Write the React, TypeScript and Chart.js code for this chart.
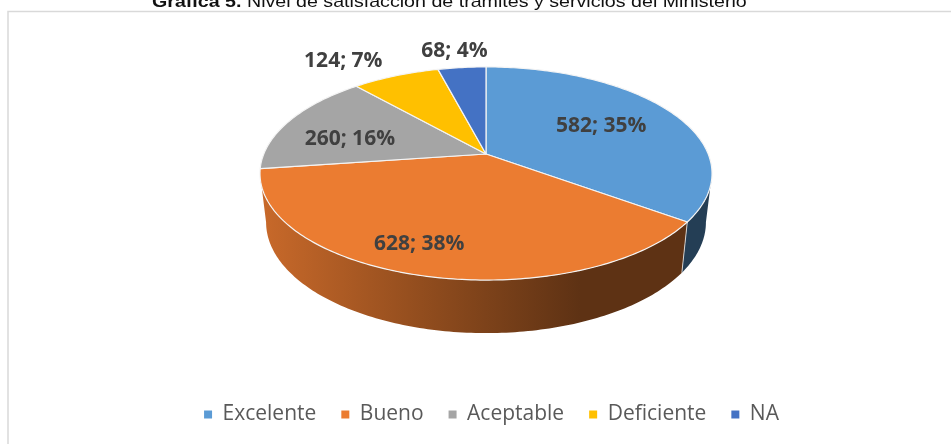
import React, { useEffect, useRef } from "react";
import { Chart, registerables } from "chart.js";

Chart.register(...registerables);

const categories = ["Excelente", "Bueno", "Aceptable", "Deficiente", "NA"];
const responses = [582, 628, 260, 124, 68];
const sliceColors = ["#5b9bd5", "#eb7c31", "#a5a5a5", "#ffc000", "#4472c4"];
const labelNudges = [
  [-7, 1],
  [-27, 17],
  [-6, 7],
  [-81, -40],
  [-15, -44],
];

const TITLE_BOLD = "Gráfica 5.";
const TITLE_REST = " Nivel de satisfacción de trámites y servicios del Ministerio";
const TITLE_WIDEN = 1.206;

// Perspective used for the tilted disc: the unit circle seen from above.
const CX = 486;
const APEX_Y = 154;
const HALF_W = 222.2;
const HALF_H = 103;
const TILT = 0.183;
// The lower rim sits further from the viewer, so it reads slightly narrower.
const LOW_SX = 0.973;
const LOW_SY = 1.04;
const LOW_APEX_Y = 202;
// Only this stretch of the rim faces the viewer.
const FRONT_FROM = Math.acos(-TILT);
const FRONT_TO = 2 * Math.PI - FRONT_FROM;

// theta is measured clockwise from twelve o'clock.
function topPoint(theta: number, r = 1): [number, number] {
  const X = Math.sin(theta) * r;
  const Y = Math.cos(theta) * r;
  const d = 1 + TILT * Y;
  return [CX + (HALF_W * X) / d, APEX_Y - (HALF_H * Y) / d];
}

function lowPoint(theta: number): [number, number] {
  const [x, y] = topPoint(theta);
  return [CX + (x - CX) * LOW_SX, LOW_APEX_Y + (y - APEX_Y) * LOW_SY];
}

function shade(hex: string, f: number) {
  const n = parseInt(hex.slice(1), 16);
  const c = [(n >> 16) & 255, (n >> 8) & 255, n & 255].map((v) => Math.round(v * f));
  return `rgb(${c[0]},${c[1]},${c[2]})`;
}

function sliceAngles(chart: Chart) {
  return chart.getDatasetMeta(0).data.map((el: any) => ({
    start: el.startAngle + Math.PI / 2,
    end: el.endAngle + Math.PI / 2,
  }));
}

const tiltedPie = {
  id: "tiltedPie",
  beforeDraw(chart: Chart) {
    const { ctx, width, height } = chart;
    ctx.save();
    ctx.fillStyle = "#ffffff";
    ctx.fillRect(0, 0, width, height);
    // Frame: only the top and left edges fall inside the canvas.
    ctx.strokeStyle = "#d9d9d9";
    ctx.lineWidth = 1.5;
    ctx.beginPath();
    ctx.moveTo(8, height);
    ctx.lineTo(8, 11.5);
    ctx.lineTo(width, 11.5);
    ctx.stroke();
    // Caption with a bold lead-in, set a little wide.
    ctx.translate(152, 7.2);
    ctx.scale(TITLE_WIDEN, 1);
    ctx.fillStyle = "#111111";
    ctx.textBaseline = "alphabetic";
    ctx.textAlign = "left";
    ctx.font = 'bold 16.3px "Liberation Sans"';
    ctx.fillText(TITLE_BOLD, 0, 0);
    const w = ctx.measureText(TITLE_BOLD).width;
    ctx.font = '16.3px "Liberation Sans"';
    ctx.fillText(TITLE_REST, w, 0);
    ctx.restore();
  },
  beforeDatasetDraw(chart: Chart) {
    const { ctx } = chart;
    const slices = sliceAngles(chart);
    ctx.save();
    ctx.lineJoin = "round";

    // Side wall: each slice contributes the part of its rim on the front.
    slices.forEach((s, i) => {
      const from = Math.max(s.start, FRONT_FROM);
      const to = Math.min(s.end, FRONT_TO);
      if (to <= from) return;
      const steps = Math.max(8, Math.ceil((to - from) * 60));
      const grad = ctx.createLinearGradient(262, 0, 580, 0);
      grad.addColorStop(0, shade(sliceColors[i], 0.85));
      grad.addColorStop(0.5, shade(sliceColors[i], 0.62));
      grad.addColorStop(1, shade(sliceColors[i], 0.4));
      ctx.beginPath();
      for (let k = 0; k <= steps; k++) {
        const [x, y] = topPoint(from + ((to - from) * k) / steps);
        if (k === 0) ctx.moveTo(x, y);
        else ctx.lineTo(x, y);
      }
      for (let k = steps; k >= 0; k--) {
        const [x, y] = lowPoint(from + ((to - from) * k) / steps);
        ctx.lineTo(x, y);
      }
      ctx.closePath();
      ctx.fillStyle = grad;
      ctx.fill();
    });

    // Seam between wall sections on the side facing the viewer.
    ctx.strokeStyle = "rgba(235,235,235,0.8)";
    ctx.lineWidth = 1;
    slices
      .filter((s) => s.start > FRONT_FROM && s.start < FRONT_TO)
      .forEach((s) => {
        const a = topPoint(s.start);
        const b = lowPoint(s.start);
        ctx.beginPath();
        ctx.moveTo(a[0], a[1]);
        ctx.lineTo(b[0], b[1]);
        ctx.stroke();
      });

    // Top surface.
    slices.forEach((s, i) => {
      const steps = Math.max(8, Math.ceil((s.end - s.start) * 60));
      ctx.beginPath();
      ctx.moveTo(CX, APEX_Y);
      for (let k = 0; k <= steps; k++) {
        const [x, y] = topPoint(s.start + ((s.end - s.start) * k) / steps);
        ctx.lineTo(x, y);
      }
      ctx.closePath();
      ctx.fillStyle = sliceColors[i];
      ctx.fill();
      ctx.strokeStyle = "#f4f4f4";
      ctx.lineWidth = 1.2;
      ctx.stroke();
    });
    ctx.restore();
    return false;
  },
  afterDatasetsDraw(chart: Chart) {
    const { ctx } = chart;
    const slices = sliceAngles(chart);
    const total = responses.reduce((a, b) => a + b, 0);
    ctx.save();
    ctx.font = 'bold 21px "Open Sans"';
    ctx.fillStyle = "#404040";
    ctx.textAlign = "center";
    ctx.textBaseline = "middle";
    slices.forEach((s, i) => {
      const [x, y] = topPoint((s.start + s.end) / 2, 0.65);
      const pct = Math.round((responses[i] / total) * 100);
      ctx.fillText(`${responses[i]}; ${pct}%`, x + labelNudges[i][0], y + labelNudges[i][1]);
    });
    ctx.restore();
  },
};

export default function App() {
  const ref = useRef<HTMLCanvasElement>(null);

  useEffect(() => {
    const chart = new Chart(ref.current!, {
      type: "pie",
      data: {
        labels: categories,
        datasets: [{ data: responses, backgroundColor: sliceColors, borderWidth: 0 }],
      },
      options: {
        responsive: false,
        animation: false,
        layout: { padding: { left: 32, bottom: 9 } },
        plugins: {
          title: { display: false },
          tooltip: { enabled: false },
          legend: {
            position: "bottom",
            labels: {
              boxWidth: 8,
              boxHeight: 8,
              padding: 25,
              color: "#595959",
              font: { family: '"Open Sans"', size: 21 },
            },
          },
        },
      },
      plugins: [tiltedPie as any],
    });
    return () => chart.destroy();
  }, []);

  return (
    <div style={{ position: "fixed", left: 0, top: 0, width: 951, height: 444 }}>
      <canvas ref={ref} width={951} height={444} style={{ display: "block" }} />
    </div>
  );
}
